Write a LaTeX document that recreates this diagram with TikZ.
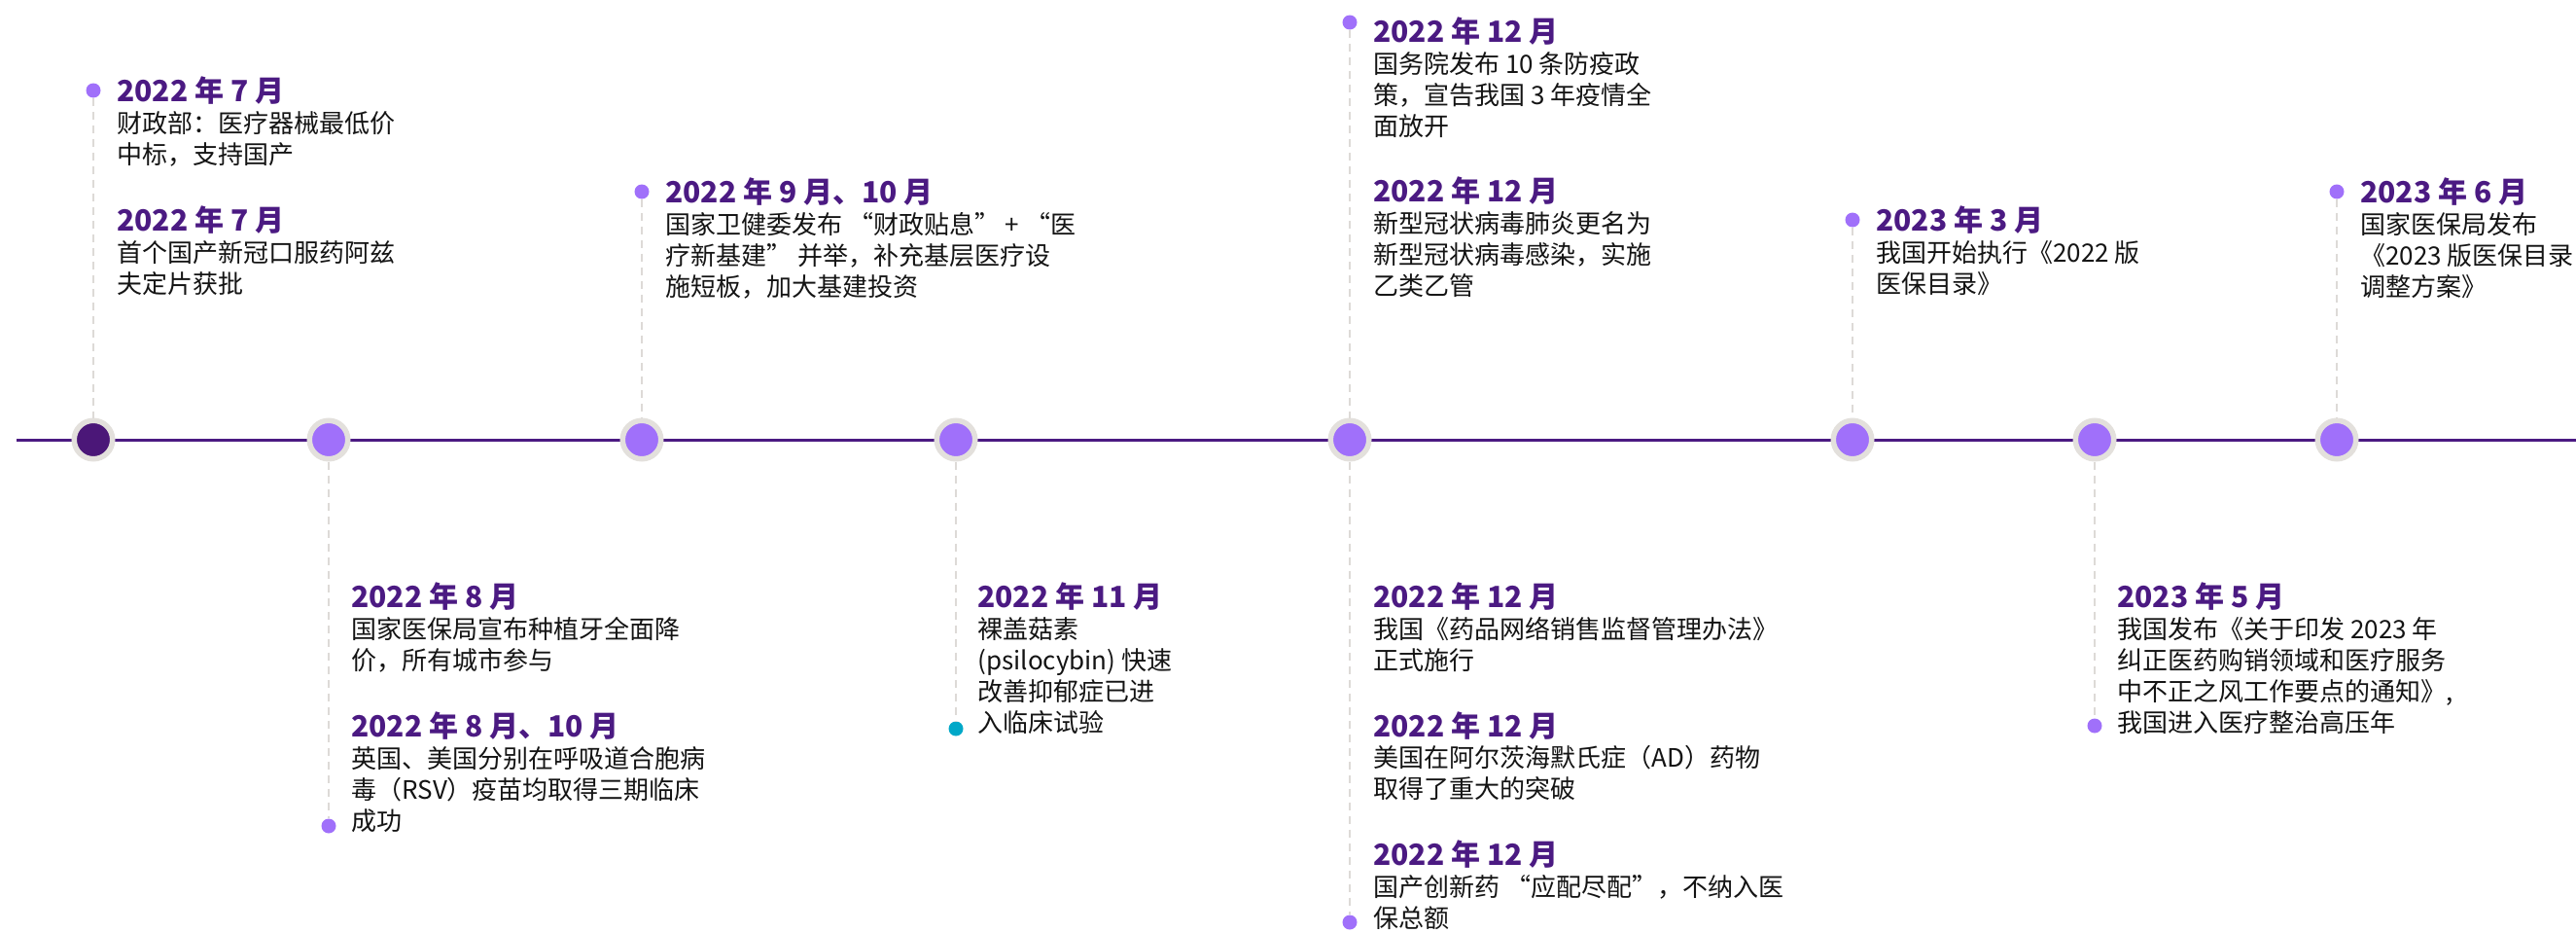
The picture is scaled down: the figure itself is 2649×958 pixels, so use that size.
\documentclass[tikz,border=0pt]{standalone}
\usepackage{fontspec}
\setmainfont{Noto Sans CJK SC}
\usetikzlibrary{positioning}

\definecolor{linepurple}{HTML}{4B1A82}
\definecolor{darkdot}{HTML}{4B1778}
\definecolor{lightdot}{HTML}{A070FA}
\definecolor{ringgray}{HTML}{E3E0DC}
\definecolor{dashgray}{HTML}{DDDAD7}
\definecolor{tealdot}{HTML}{00A8C8}

\tikzset{
  axis/.style={draw=linepurple, line width=1.5pt},
  milestone/.style={circle, draw=ringgray, line width=2.75pt, fill=lightdot, minimum size=19.75pt, inner sep=0pt},
  tip/.style={circle, fill=lightdot, minimum size=7.5pt, inner sep=0pt},
  guide/.style={draw=dashgray, line width=1.25pt, dash pattern=on 4pt off 3pt},
  head/.style={font=\fontsize{15}{18}\selectfont\bfseries, text=linepurple, inner sep=0pt, anchor=west},
  body/.style={font=\fontsize{13}{16}\selectfont, text=black!92, inner sep=0pt, align=left}
}

\begin{document}
\begin{tikzpicture}[x=0.5pt, y=-0.5pt]
  \useasboundingbox (0,0) rectangle (2649,958);

  % timeline
  \coordinate (start) at (17,452);
  \coordinate (stop) at (2649,452);
  \draw[axis] (start) -- (stop);

  \node[milestone, fill=darkdot] (c1) at (96,452) {};
  \node[milestone] (c2) at (338,452) {};
  \node[milestone] (c3) at (660,452) {};
  \node[milestone] (c4) at (983,452) {};
  \node[milestone] (c5) at (1388,452) {};
  \node[milestone] (c6) at (1905,452) {};
  \node[milestone] (c7) at (2154,452) {};
  \node[milestone] (c8) at (2403,452) {};

  % 2022.7
  \node[tip] (d1) at (96,93) {};
  \node[head, right=8pt of d1] (h1a) {2022 年 7 月};
  \node[body, below right=3pt and 0pt of h1a.south west] (b1a) {财政部：医疗器械最低价\\中标，支持国产};
  \node[head, below right=20pt and 0pt of b1a.south west] (h1b) {2022 年 7 月};
  \node[body, below right=3pt and 0pt of h1b.south west] (b1b) {首个国产新冠口服药阿兹\\夫定片获批};
  \draw[guide] (d1.south) -- (c1.north);

  % 2022.8
  \node[tip] (d2) at (338,849) {};
  \node[head] (h2a) at (361,613) {2022 年 8 月};
  \node[body, below right=3pt and 0pt of h2a.south west] (b2a) {国家医保局宣布种植牙全面降\\价，所有城市参与};
  \node[head, below right=20pt and 0pt of b2a.south west] (h2b) {2022 年 8 月、10 月};
  \node[body, below right=3pt and 0pt of h2b.south west] (b2b) {英国、美国分别在呼吸道合胞病\\毒（RSV）疫苗均取得三期临床\\成功};
  \draw[guide] (c2.south) -- (d2.north);

  % 2022.9-10
  \node[tip] (d3) at (660,197) {};
  \node[head, right=8pt of d3] (h3) {2022 年 9 月、10 月};
  \node[body, below right=3pt and 0pt of h3.south west] (b3) {国家卫健委发布 “财政贴息” + “医\\疗新基建” 并举，补充基层医疗设\\施短板，加大基建投资};
  \draw[guide] (d3.south) -- (c3.north);

  % 2022.11
  \node[tip, fill=tealdot] (d4) at (983,749) {};
  \node[head] (h4) at (1005,613) {2022 年 11 月};
  \node[body, below right=3pt and 0pt of h4.south west] (b4) {裸盖菇素\\(psilocybin) 快速\\改善抑郁症已进\\入临床试验};
  \draw[guide] (c4.south) -- (d4.north);

  % 2022.12 above
  \node[tip] (d5) at (1388,23) {};
  \node[head, right=8pt of d5, yshift=-4.5pt] (h5a) {2022 年 12 月};
  \node[body, below right=3pt and 0pt of h5a.south west] (b5a) {国务院发布 10 条防疫政\\策，宣告我国 3 年疫情全\\面放开};
  \node[head, below right=20pt and 0pt of b5a.south west] (h5b) {2022 年 12 月};
  \node[body, below right=3pt and 0pt of h5b.south west] (b5b) {新型冠状病毒肺炎更名为\\新型冠状病毒感染，实施\\乙类乙管};
  \draw[guide] (d5.south) -- (c5.north);

  % 2022.12 below
  \node[tip] (e5) at (1388,948) {};
  \node[head] (h5c) at (1412,613) {2022 年 12 月};
  \node[body, below right=3pt and 0pt of h5c.south west] (b5c) {我国《药品网络销售监督管理办法》\\正式施行};
  \node[head, below right=20pt and 0pt of b5c.south west] (h5d) {2022 年 12 月};
  \node[body, below right=3pt and 0pt of h5d.south west] (b5d) {美国在阿尔茨海默氏症（AD）药物\\取得了重大的突破};
  \node[head, below right=20pt and 0pt of b5d.south west] (h5e) {2022 年 12 月};
  \node[body, below right=3pt and 0pt of h5e.south west] (b5e) {国产创新药 “应配尽配”，不纳入医\\保总额};
  \draw[guide] (c5.south) -- (e5.north);

  % 2023.3
  \node[tip] (d6) at (1905,226) {};
  \node[head, right=8pt of d6] (h6) {2023 年 3 月};
  \node[body, below right=3pt and 0pt of h6.south west] (b6) {我国开始执行《2022 版\\医保目录》};
  \draw[guide] (d6.south) -- (c6.north);

  % 2023.5
  \node[tip] (d7) at (2154,746) {};
  \node[head] (h7) at (2177,613) {2023 年 5 月};
  \node[body, below right=3pt and 0pt of h7.south west] (b7) {我国发布《关于印发 2023 年\\纠正医药购销领域和医疗服务\\中不正之风工作要点的通知》,\\我国进入医疗整治高压年};
  \draw[guide] (c7.south) -- (d7.north);

  % 2023.6
  \node[tip] (d8) at (2403,197) {};
  \node[head, right=8pt of d8] (h8) {2023 年 6 月};
  \node[body, below right=3pt and 0pt of h8.south west] (b8) {国家医保局发布\\《2023 版医保目录\\调整方案》};
  \draw[guide] (d8.south) -- (c8.north);
\end{tikzpicture}
\end{document}
